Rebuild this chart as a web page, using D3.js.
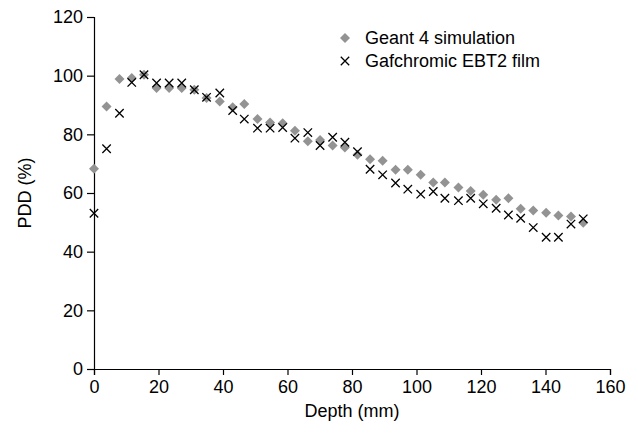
<!DOCTYPE html>
<html>
<head>
<meta charset="utf-8">
<script src="https://cdn.jsdelivr.net/npm/d3@7"></script>
<style>
  body { margin: 0; background: #fff; }
  text { font-family: 'Liberation Sans', Arial, sans-serif; }
</style>
</head>
<body>
<div id="chart"></div>
<script>
// depth (mm) of each measurement
const depths = [0, 3.9, 7.9, 11.7, 15.5, 19.4, 23.3, 27.2, 31.1, 34.9,
  39, 43, 46.6, 50.7, 54.6, 58.5, 62.3, 66.3, 70.1, 74,
  77.8, 81.7, 85.6, 89.5, 93.5, 97.3, 101.3, 105.2, 108.8, 113,
  116.8, 120.7, 124.7, 128.5, 132.3, 136.2, 140.2, 144, 147.9, 151.7]

const geant = [68.3, 89.5, 98.9, 99.2, 100.3, 95.8, 95.8, 95.8, 95.2, 92.4,
  91.2, 89.2, 90.3, 85.2, 84.0, 83.8, 81.2, 77.6, 78.1, 76.2,
  75.5, 73.0, 71.5, 71.0, 67.9, 67.9, 66.2, 63.6, 63.6, 61.9,
  60.7, 59.4, 57.7, 58.2, 54.6, 54.0, 53.3, 52.3, 52.0, 49.9]

const film = [53.1, 75.1, 87.2, 97.7, 100.3, 97.5, 97.5, 97.5, 95.2, 92.6,
  94.1, 88.1, 85.2, 82.1, 82.1, 82.3, 78.7, 80.6, 76.2, 79.0,
  77.3, 74.1, 68.1, 66.2, 63.4, 61.3, 59.6, 60.5, 58.2, 57.4,
  58.2, 56.3, 54.8, 52.5, 51.4, 48.2, 44.9, 44.9, 49.4, 51.2]

const xTicks = [0, 20, 40, 60, 80, 100, 120, 140, 160]
const yTicks = [0, 20, 40, 60, 80, 100, 120]
const seriesNames = ['Geant 4 simulation', 'Gafchromic EBT2 film']

const margin = { top: 17, left: 94, right: 28, bottom: 69 }
const width = 638 - margin.left - margin.right
const height = 438 - margin.top - margin.bottom
const fontSize = 18

const svg = d3
  .select('#chart')
  .append('svg')
  .attr('width', 638)
  .attr('height', 438)
  .append('g')
  .attr('transform', 'translate(' + margin.left + ',' + margin.top + ')')

const xPositionScale = d3.scaleLinear().domain([0, 160]).range([0, width])
const yPositionScale = d3.scaleLinear().domain([0, 120]).range([height, 0])

const xAxis = d3.axisBottom(xPositionScale).tickValues(xTicks).tickSize(6).tickSizeOuter(6)
svg
  .append('g')
  .attr('class', 'axis x-axis')
  .attr('transform', 'translate(0,' + height + ')')
  .call(xAxis)

const yAxis = d3.axisLeft(yPositionScale).tickValues(yTicks).tickSize(7).tickSizeOuter(7)
svg
  .append('g')
  .attr('class', 'axis y-axis')
  .call(yAxis)

svg.selectAll('.axis path, .axis line').attr('stroke', '#000').attr('stroke-width', 1.2)
svg.selectAll('.axis text').attr('font-size', fontSize).attr('fill', '#000')
  .attr('font-family', "'Liberation Sans', Arial, sans-serif")
svg.selectAll('.x-axis text').attr('y', 9).attr('dy', '0.85em')
svg.selectAll('.y-axis text').attr('x', -11)

const diamond = d3.symbol(d3.symbolSquare, 50)
const cross = d3.symbol(d3.symbolTimes, 48)

// simulation points: grey diamonds
svg
  .selectAll('.geant')
  .data(depths)
  .enter()
  .append('path')
  .attr('class', 'geant')
  .attr('d', diamond)
  .attr('transform', (d, i) =>
    'translate(' + xPositionScale(d) + ',' + yPositionScale(geant[i]) + ') rotate(45)')
  .attr('fill', '#939393')

// film points: black crosses
svg
  .selectAll('.film')
  .data(depths)
  .enter()
  .append('path')
  .attr('class', 'film')
  .attr('d', cross)
  .attr('transform', (d, i) =>
    'translate(' + xPositionScale(d) + ',' + yPositionScale(film[i]) + ')')
  .attr('fill', 'none')
  .attr('stroke', '#000')
  .attr('stroke-width', 1.3)

// legend
const legend = svg
  .selectAll('.legend')
  .data(seriesNames)
  .enter()
  .append('g')
  .attr('class', 'legend')
  .attr('transform', (d, i) => 'translate(' + (345 - margin.left) + ',' + (38 + i * 23 - margin.top) + ')')

legend
  .append('path')
  .attr('d', (d, i) => (i === 0 ? diamond() : cross()))
  .attr('transform', (d, i) => (i === 0 ? 'rotate(45)' : null))
  .attr('fill', (d, i) => (i === 0 ? '#939393' : 'none'))
  .attr('stroke', (d, i) => (i === 0 ? null : '#000'))
  .attr('stroke-width', 1.3)

legend
  .append('text')
  .attr('x', 20)
  .attr('dy', '0.35em')
  .attr('font-size', fontSize)
  .text(d => d)

svg
  .append('text')
  .text('Depth (mm)')
  .attr('x', width / 2)
  .attr('y', height + 48)
  .attr('text-anchor', 'middle')
  .attr('font-size', fontSize)

svg
  .append('text')
  .text('PDD (%)')
  .attr('transform', 'translate(' + (-63) + ',' + height / 2 + ') rotate(-90)')
  .attr('text-anchor', 'middle')
  .attr('font-size', fontSize)
</script>
</body>
</html>
